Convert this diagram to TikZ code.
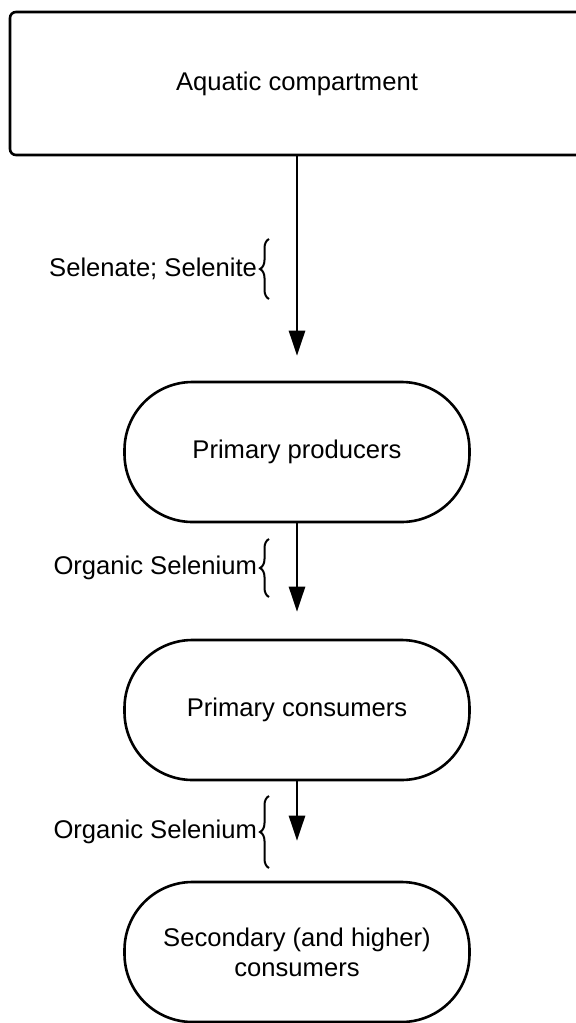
\documentclass[tikz,border=0pt]{standalone}
\usepackage{fontspec}
\setmainfont{Liberation Sans}
\usetikzlibrary{arrows.meta,decorations.pathreplacing}
\begin{document}
\begin{tikzpicture}[x=0.5pt,y=-0.5pt,
  every node/.style={font=\fontsize{12.8}{15}\selectfont},
  topbox/.style={draw,line width=1.3pt,rounded corners=3pt,minimum width=287pt,minimum height=71.5pt,inner sep=0pt},
  stadium/.style={draw,line width=1.3pt,rounded corners=34pt,minimum width=172.5pt,minimum height=70pt,align=center,inner sep=0pt},
  flow/.style={line width=1.3pt,-{Triangle[width=8pt,length=12.5pt]}},
  bracket/.style={line width=1pt,decorate,decoration={brace,amplitude=4.5pt}},
  lab/.style={midway,left,inner sep=1pt}]
\useasboundingbox (0,0) rectangle (576,1023);
\node[topbox] (aq) at (297,83.5) {Aquatic compartment};
\node[stadium] (pp) at (297,452) {Primary producers};
\node[stadium] (pc) at (297,710) {Primary consumers};
\node[stadium] (sc) at (297,952) {Secondary (and higher)\\consumers};
\draw[flow,shorten >=12.5pt] (aq.south) -- (pp.north);
\draw[flow,shorten >=13.5pt] (pp.south) -- (pc.north);
\draw[flow,shorten >=20pt] (pc.south) -- (sc.north);
\coordinate (b1a) at (269,299); \coordinate (b1b) at (269,239);
\coordinate (b2a) at (269,597); \coordinate (b2b) at (269,539);
\coordinate (b3a) at (269,868); \coordinate (b3b) at (269,796);
\draw[bracket] (b1a) -- (b1b) node[lab,xshift=-4.5pt] (l1) {Selenate; Selenite};
\draw[bracket] (b2a) -- (b2b) node[lab,xshift=-4.5pt] (l2) {Organic Selenium};
\draw[bracket] (b3a) -- (b3b) node[lab,xshift=-4.5pt] (l3) {Organic Selenium};
\end{tikzpicture}
\end{document}
